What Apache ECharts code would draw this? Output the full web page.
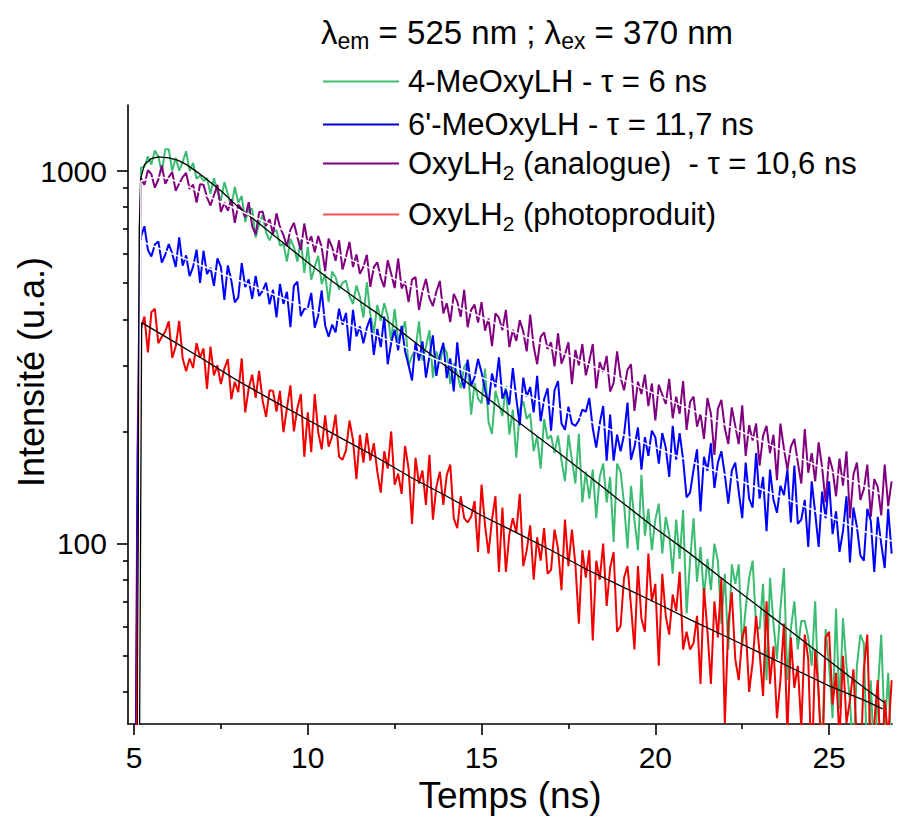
<!DOCTYPE html>
<html>
<head>
<meta charset="utf-8">
<script src="https://cdn.jsdelivr.net/npm/echarts@6/dist/echarts.min.js"></script>
<style>
  html, body { margin: 0; padding: 0; background: #fff; }
  #chart { width: 901px; height: 819px; }
</style>
</head>
<body>
<div id="chart"></div>
<script>
// ---- sampling grid of the measured decays (ns) ----
const timeStart = 5.0;
const timeStep = 0.1;

// ---- measured counts, one value per 0.1 ns from 5.0 ns to 26.8 ns ----
const greenCounts = [
  3,140,1021,1027,1095,1041,1135,1092,993,1145,
  1144,1000,1086,1002,1058,1130,999,1051,953,973,
  941,957,869,957,881,833,934,866,800,907,
  822,857,730,791,792,663,722,763,684,652,
  686,694,631,637,572,657,626,571,654,533,
  626,511,553,592,497,529,445,537,519,481,
  501,508,462,440,493,459,404,503,412,367,
  437,396,442,408,350,427,351,369,395,300,
  319,331,395,310,337,374,279,328,305,338,
  326,268,305,286,261,298,307,222,270,245,
  238,295,212,197,257,237,220,265,196,229,
  170,229,241,216,223,177,194,159,216,191,
  195,175,195,167,147,196,168,145,197,129,
  156,132,158,117,151,164,129,151,101,164,
  156,128,97,143,116,96,153,105,124,96,
  116,128,94,118,106,83,116,91,123,65,
  90,117,79,98,72,91,75,100,90,61,
  83,52,88,78,88,53,67,81,90,60,
  59,78,43,81,61,49,67,86,43,59,
  70,52,62,62,56,47,70,38,28,59,
  47,34,67,36,63,47,38,26,47,57,
  54,24,43,25,40,57,31,45,26
];
const blueCounts = [
  3,110,667,711,614,590,635,647,568,596,
  637,600,553,664,557,594,522,553,615,501,
  611,529,550,492,583,553,451,558,508,444,
  458,566,488,512,454,523,462,477,502,439,
  480,405,498,440,474,381,492,505,408,427,
  428,471,380,409,478,385,359,387,369,427,
  387,416,329,424,360,383,345,380,403,321,
  377,337,407,303,346,375,330,384,328,301,
  274,347,310,349,279,318,362,282,320,346,
  278,314,256,347,284,261,312,265,280,313,
  288,259,236,286,263,316,245,259,236,296,
  245,208,279,248,263,225,282,213,244,261,
  201,258,273,210,202,233,210,207,214,229,
  226,246,204,181,210,234,167,222,167,196,
  177,196,239,168,182,205,158,193,172,201,
  193,164,198,181,151,207,168,198,168,133,
  137,158,179,122,171,157,186,141,165,177,
  153,128,157,165,138,117,165,132,125,175,
  132,151,108,158,131,121,143,135,158,114,
  162,113,116,131,98,147,121,98,138,117,
  147,106,122,95,108,134,89,125,111,93,
  90,124,115,84,118,100,86,124,94
];
const purpleCounts = [
  4,170,955,918,1005,981,902,949,1035,924,
  963,993,885,925,963,988,895,919,823,922,
  919,850,808,861,918,777,822,783,840,726,
  813,790,752,825,712,675,775,779,713,742,
  678,770,707,673,628,695,726,665,614,723,
  638,668,605,669,625,539,659,625,574,652,
  544,589,645,553,597,530,553,596,489,552,
  569,517,488,576,530,485,582,484,505,445,
  511,519,424,476,513,456,434,475,507,415,
  442,393,468,447,406,480,381,424,438,392,
  445,373,402,339,415,404,374,424,337,375,
  350,398,371,328,412,338,303,359,369,333,
  347,299,367,304,322,347,268,331,301,343,
  283,309,343,261,307,289,319,256,270,328,
  279,258,293,303,227,272,252,284,234,269,
  214,267,251,237,277,217,248,223,273,202,
  240,248,206,223,191,246,223,173,230,243,
  204,185,232,207,185,235,172,208,189,210,
  162,195,207,175,196,148,210,180,158,182,
  191,165,145,203,155,175,147,187,160,129,
  171,158,134,169,143,177,117,153,165,131,
  140,163,118,149,142,119,163,126,147
];
const redCounts = [
  2,60,378,407,326,418,427,345,359,371,
  395,315,338,396,314,290,314,296,345,316,
  334,260,338,283,301,268,295,313,244,272,
  255,314,225,261,284,246,291,242,219,258,
  257,226,257,199,231,266,200,231,252,171,
  225,176,252,199,179,221,182,194,222,171,
  168,178,214,190,149,196,165,198,167,186,
  156,137,177,159,200,144,154,136,183,159,
  113,170,145,157,127,173,116,142,156,127,
  153,163,117,110,134,117,114,118,130,95,
  144,112,94,116,134,84,125,84,106,117,
  107,136,87,96,112,80,104,90,110,83,
  85,109,97,75,116,87,109,88,61,96,
  81,96,55,90,80,100,68,86,95,58,
  60,81,87,68,52,87,63,58,94,70,
  78,47,83,64,57,73,66,84,52,58,
  52,54,64,42,76,58,42,70,56,81,
  33,61,74,49,43,56,60,40,48,64,
  51,39,70,42,53,34,43,61,31,56,
  41,47,32,57,49,24,52,40,24,56,
  58,37,45,30,50,33,38,46,29,24,
  46,57,26,33,43,23,38,30,43
];

// ---- fitted decay curves ----
const greenFitT = [5.06,5.15,5.2,5.3,5.5,5.7,6.0,6.25,6.5,6.75,7.0,7.5,8,8.5,9,9.5,10,10.5,11,11.5,12,13,14,15,16,17,18,19,20,21,22,23,24,25,26,26.6];
const greenFitY = [1,700,960,1040,1080,1092,1085,1070,1042,1004,965,885,800,735,675,620,568,523,483,447,415,352,298,253,214,182,154,130,110,94,79.5,67.5,57.2,48.5,41.1,37.4];
const purpleFitT = [5.08,5.2,5.5,5.8,6.0,6.5,7,8,10,12,14,16,18,20,22,24,26,26.46];
const purpleFitY = [1,940,958,962,955,915,866,786,649,538,445,368,305,252,209,172,143,136];
const blueFitT = [5.08,5.2,6,8,10,12,14,16,18,20,22,24,26,26.8];
const blueFitY = [1,648,605,509,428,361,304,256,215,181,153,129,108,101.6];
const redFitT = [5.08,5.22,6,7,8,9,10,11,12,13,14,15,16,17,18,19,20,21,22,23,24,25,26,26.54];
const redFitY = [1,392,355,312,273,242,215,191,170,150,134,119,107,96,85.5,77,69.5,62.5,56.5,51,46,41.5,38,36];

// ---- axes ----
const xTickValues = [5, 10, 15, 20, 25];
const xMinorTickValues = [7.5, 12.5, 17.5, 22.5];
const yTickValues = [100, 1000];
const yMinorTickValues = [40, 50, 60, 70, 80, 90, 200, 300, 400, 500, 600, 700, 800, 900];

// ---- texts ----
const seriesNames = [
  '4-MeOxyLH - τ = 6 ns',
  "6'-MeOxyLH - τ = 11,7 ns",
  'OxyLH2 (analogue)  - τ = 10,6 ns',
  'OxyLH2 (photoproduit)'
];
const colors = ['#3cbc72', '#0000ff', '#800080', '#f00000'];
const FONT = '"Liberation Sans", Arial, Helvetica, sans-serif';

function withTimes(counts) {
  return counts.map((v, i) => [Math.round((timeStart + timeStep * i) * 10) / 10, v]);
}
function pairs(ts, ys) { return ts.map((t, i) => [t, ys[i]]); }

const chart = echarts.init(document.getElementById('chart'), null, { renderer: 'svg' });

const dataSeries = [
  { name: seriesNames[0], counts: greenCounts, color: colors[0] },
  { name: seriesNames[2], counts: purpleCounts, color: colors[2] },
  { name: seriesNames[1], counts: blueCounts, color: colors[1] },
  { name: seriesNames[3], counts: redCounts, color: colors[3] }
].map(s => ({
  name: s.name, type: 'line', data: withTimes(s.counts), symbol: 'none',
  xAxisIndex: 0, yAxisIndex: 0, clip: true, silent: true,
  lineStyle: { color: s.color, width: 2 }, itemStyle: { color: s.color }
}));

const fitSeries = [
  { name: 'fit1', d: pairs(greenFitT, greenFitY), c: '#000000', w: 1.3 },
  { name: 'fit3', d: pairs(purpleFitT, purpleFitY), c: '#ffffff', w: 1.5 },
  { name: 'fit2', d: pairs(blueFitT, blueFitY), c: '#ffffff', w: 1.5 },
  { name: 'fit4', d: pairs(redFitT, redFitY), c: '#000000', w: 1.3 }
].map(s => ({
  name: s.name, type: 'line', data: s.d, symbol: 'none', clip: true, silent: true,
  xAxisIndex: 0, yAxisIndex: 0, lineStyle: { color: s.c, width: s.w }, z: 5
}));

const richBase = {
  b: { fontSize: 31, lineHeight: 38, fontFamily: FONT, color: '#000' },
  s: { fontSize: 21, lineHeight: 20, padding: [18, 0, 0, 0], fontFamily: FONT, color: '#000' }
};
function legendLabel(name) {
  const parts = name.split('LH2');
  if (parts.length === 1) return '{b|' + name + '}';
  return '{b|' + parts[0] + 'LH}{s|2}{b|' + parts[1] + '}';
}
const legendRowsTop = [66, 109, 144, 195];
const legendColors = ['#3cbc72', '#0000cc', '#800080', '#ff5050'];
const legends = seriesNames.map((n, i) => ({
  data: [{ name: n, itemStyle: { color: legendColors[i] } }],
  left: 323, top: legendRowsTop[i], orient: 'vertical', padding: 0,
  icon: 'rect', itemWidth: 76, itemHeight: 2, selectedMode: false,
  formatter: legendLabel,
  textStyle: { fontSize: 31, fontFamily: FONT, color: '#000', padding: [0, 0, 0, 4], rich: richBase }
}));

const axisLineStyle = { color: '#000', width: 1.6 };

chart.setOption({
  animation: false,
  backgroundColor: '#fff',
  title: {
    text: 'λ{s|em}{b| = 525 nm ; λ}{s|ex}{b| = 370 nm}',
    left: 321, top: 13, padding: 0,
    textStyle: {
      fontSize: 33, fontWeight: 'normal', fontFamily: FONT, color: '#000', lineHeight: 38,
      rich: {
        b: { fontSize: 33, lineHeight: 38, fontFamily: FONT, color: '#000' },
        s: { fontSize: 23, lineHeight: 20, padding: [18, 0, 0, 0], fontFamily: FONT, color: '#000' }
      }
    }
  },
  legend: legends,
  grid: { left: 128, right: 9, top: 105, bottom: 95, containLabel: false },
  xAxis: [
    {
      type: 'value', min: 4.827, max: 26.81, position: 'bottom',
      name: 'Temps (ns)', nameLocation: 'middle', nameGap: 53,
      nameTextStyle: { fontSize: 37, fontFamily: FONT, color: '#000' },
      axisLine: { show: true, onZero: false, lineStyle: axisLineStyle },
      axisTick: { show: true, customValues: xTickValues, length: 11, lineStyle: axisLineStyle },
      axisLabel: { customValues: xTickValues, fontSize: 30, fontFamily: FONT, color: '#000', margin: 18 },
      splitLine: { show: false }
    },
    {
      type: 'value', min: 4.827, max: 26.81, position: 'bottom',
      axisLine: { show: false },
      axisTick: { show: true, customValues: xMinorTickValues, length: 5, lineStyle: axisLineStyle },
      axisLabel: { show: false },
      splitLine: { show: false }
    }
  ],
  yAxis: [
    {
      type: 'log', logBase: 10, min: 32.8, max: 1504, position: 'left',
      axisLine: { show: true, onZero: false, lineStyle: axisLineStyle },
      axisTick: { show: true, customValues: yTickValues, length: 11, lineStyle: axisLineStyle },
      axisLabel: { customValues: yTickValues, fontSize: 30, fontFamily: FONT, color: '#000', margin: 21,
        formatter: v => String(Math.round(v)) },
      splitLine: { show: false }, minorTick: { show: false }
    },
    {
      type: 'log', logBase: 10, min: 32.8, max: 1504, position: 'left',
      axisLine: { show: false },
      axisTick: { show: true, customValues: yMinorTickValues, length: 5, lineStyle: axisLineStyle },
      axisLabel: { show: false },
      splitLine: { show: false }
    }
  ],
  graphic: [{
    type: 'text', x: 31, y: 372, rotation: Math.PI / 2,
    style: { text: 'Intensité (u.a.)', fontSize: 36, fontFamily: FONT, fill: '#000', align: 'center', verticalAlign: 'middle' }
  }],
  series: dataSeries.concat(fitSeries)
});
</script>
</body>
</html>
